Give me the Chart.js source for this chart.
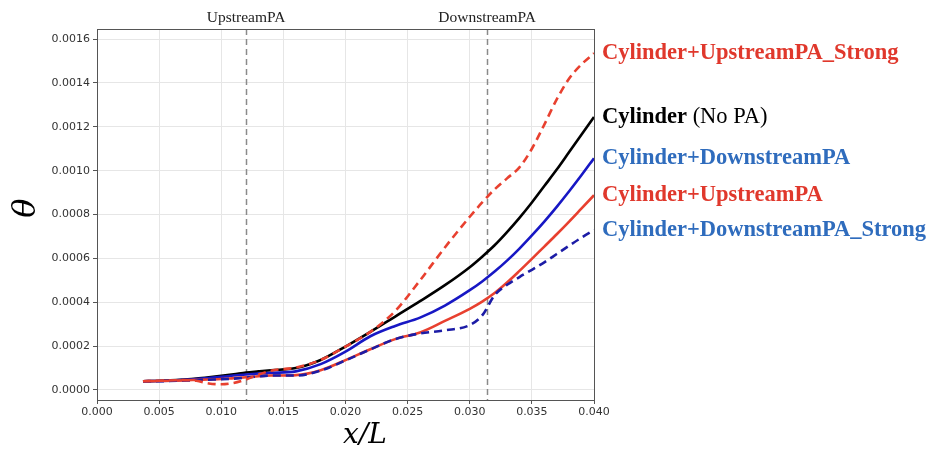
<!DOCTYPE html>
<html>
<head>
<meta charset="utf-8">
<script src="https://cdn.jsdelivr.net/npm/chart.js@4"></script>
<style>
 html, body { margin: 0; padding: 0; background: #fff; }
</style>
</head>
<body>
<canvas id="thetaChart" width="933" height="450"></canvas>
<script>
// x/L sample positions shared by all curves
var xValues = [0.0037, 0.005, 0.007, 0.008, 0.009, 0.010, 0.011, 0.012, 0.013, 0.014,
 0.016, 0.018, 0.020, 0.022, 0.024, 0.026, 0.028, 0.030, 0.031, 0.032, 0.033,
 0.034, 0.035, 0.036, 0.037, 0.038, 0.039, 0.040];

var cylinder = [0.000040, 0.000042, 0.000048, 0.000052, 0.000058, 0.000065, 0.000072, 0.000080, 0.000085, 0.000090,
 0.000100, 0.000137, 0.000198, 0.000265, 0.000335, 0.000405, 0.000478, 0.000560, 0.000608, 0.000660, 0.000720,
 0.000785, 0.000855, 0.000930, 0.001005, 0.001085, 0.001165, 0.001245];

var downstreamPA = [0.000040, 0.000041, 0.000046, 0.000050, 0.000055, 0.000060, 0.000066, 0.000071, 0.000075, 0.000078,
 0.000085, 0.000118, 0.000175, 0.000245, 0.000292, 0.000330, 0.000385, 0.000455, 0.000495, 0.000540, 0.000590,
 0.000645, 0.000705, 0.000768, 0.000835, 0.000906, 0.000980, 0.001057];

var downstreamPAStrong = [0.000040, 0.000040, 0.000043, 0.000045, 0.000047, 0.000049, 0.000052, 0.000056, 0.000062, 0.000066,
 0.000066, 0.000088, 0.000135, 0.000185, 0.000232, 0.000258, 0.000272, 0.000296, 0.000340, 0.000432, 0.000480,
 0.000515, 0.000548, 0.000582, 0.000620, 0.000658, 0.000695, 0.000729];

var upstreamPA = [0.000040, 0.000041, 0.000044, 0.000046, 0.000048, 0.000050, 0.000054, 0.000058, 0.000063, 0.000066,
 0.000068, 0.000090, 0.000136, 0.000186, 0.000232, 0.000262, 0.000315, 0.000370, 0.000403, 0.000442, 0.000490,
 0.000543, 0.000598, 0.000654, 0.000710, 0.000768, 0.000828, 0.000888];

var upstreamPAStrong = [0.000040, 0.000042, 0.000045, 0.000042, 0.000030, 0.000026, 0.000032, 0.000048, 0.000070, 0.000088,
 0.000102, 0.000137, 0.000198, 0.000265, 0.000360, 0.000500, 0.000650, 0.000790, 0.000855, 0.000915, 0.000965,
 0.001015, 0.001100, 0.001210, 0.001325, 0.001420, 0.001485, 0.001535];

var xTicks = [0.000, 0.005, 0.010, 0.015, 0.020, 0.025, 0.030, 0.035, 0.040];
var yTicks = [0.0000, 0.0002, 0.0004, 0.0006, 0.0008, 0.0010, 0.0012, 0.0014, 0.0016];

// actuator positions (x/L)
var paNames = ["UpstreamPA", "DownstreamPA"];
var paPositions = [0.0120, 0.0314];

var RED = "#e8402f";
var BLUE = "#1717c4";
var DARKBLUE = "#1c1ca6";
var LABEL_RED = "#e0382c";
var LABEL_BLUE = "#2f6cbd";

function toPoints(ys) {
 return xValues.map(function (x, i) {
  return { x: x, y: ys[i] };
 });
}

// first dataset is drawn on top
var seriesList = [
 { label: "Cylinder+UpstreamPA_Strong", data: upstreamPAStrong, color: RED, dash: [8, 5], text: LABEL_RED },
 { label: "Cylinder+DownstreamPA_Strong", data: downstreamPAStrong, color: DARKBLUE, dash: [8, 5], text: LABEL_BLUE },
 { label: "Cylinder+UpstreamPA", data: upstreamPA, color: RED, dash: [], text: LABEL_RED },
 { label: "Cylinder+DownstreamPA", data: downstreamPA, color: BLUE, dash: [], text: LABEL_BLUE },
 { label: "Cylinder", data: cylinder, color: "#000000", dash: [], text: "#000000" },
];

var datasets = seriesList.map(function (s) {
 return {
  label: s.label,
  data: toPoints(s.data),
  borderColor: s.color,
  borderWidth: 2.6,
  borderDash: s.dash,
  pointRadius: 0,
  fill: false,
  cubicInterpolationMode: "monotone",
 };
});

var decorPlugin = {
 id: "decor",
 beforeDatasetsDraw: function (chart) {
  var ctx = chart.ctx;
  var area = chart.chartArea;
  var xs = chart.scales.x;
  ctx.save();
  ctx.strokeStyle = "#8a8a8a";
  ctx.lineWidth = 1.5;
  ctx.setLineDash([6, 4]);
  paPositions.forEach(function (p) {
   var px = Math.round(xs.getPixelForValue(p)) + 0.5;
   ctx.beginPath();
   ctx.moveTo(px, area.top);
   ctx.lineTo(px, area.bottom);
   ctx.stroke();
  });
  ctx.restore();
 },
 afterDatasetsDraw: function (chart) {
  var ctx = chart.ctx;
  var area = chart.chartArea;
  var xs = chart.scales.x;
  var ys = chart.scales.y;
  ctx.save();

  // frame
  ctx.strokeStyle = "#555";
  ctx.lineWidth = 1;
  ctx.setLineDash([]);
  ctx.strokeRect(Math.round(area.left) + 0.5, Math.round(area.top) + 0.5,
   Math.round(area.right - area.left), Math.round(area.bottom - area.top));

  // actuator names above the plot
  ctx.fillStyle = "#222";
  ctx.font = "15.5px 'Liberation Serif'";
  ctx.textAlign = "center";
  ctx.textBaseline = "middle";
  paNames.forEach(function (name, i) {
   ctx.fillText(name, xs.getPixelForValue(paPositions[i]), 18);
  });

  // curve names at the right end of each curve
  ctx.textAlign = "left";
  var lx = area.right + 8;
  seriesList.forEach(function (s) {
   var py = ys.getPixelForValue(s.data[s.data.length - 1]);
   ctx.fillStyle = s.text;
   ctx.font = "bold 22.5px 'Liberation Serif'";
   ctx.fillText(s.label, lx, py);
   if (s.label === "Cylinder") {
    var w = ctx.measureText(s.label).width;
    ctx.font = "22.5px 'Liberation Serif'";
    ctx.fillText(" (No PA)", lx + w, py);
   }
  });

  // axis titles
  ctx.fillStyle = "#000";
  ctx.font = "italic 28px 'DejaVu Serif'";
  ctx.textAlign = "center";
  ctx.fillText("x/L", 365, 436);

  ctx.translate(27, 208);
  ctx.rotate(-Math.PI / 2);
  ctx.font = "italic 32px 'DejaVu Serif'";
  ctx.fillText("θ", 0, 0);
  ctx.restore();
 },
};

var tickFont = { family: "'DejaVu Sans'", size: 11 };

new Chart(document.getElementById("thetaChart"), {
 type: "line",
 data: { datasets: datasets },
 options: {
  responsive: false,
  devicePixelRatio: 1,
  animation: false,
  layout: { padding: { left: 0, right: 339, top: 29, bottom: 0 } },
  plugins: {
   legend: { display: false },
   tooltip: { enabled: false },
  },
  scales: {
   x: {
    type: "linear",
    min: 0,
    max: 0.04,
    afterBuildTicks: function (scale) {
     scale.ticks = xTicks.map(function (v) { return { value: v }; });
    },
    afterFit: function (scale) { scale.height = 50; },
    ticks: {
     font: tickFont,
     color: "#333",
     padding: 2,
     maxRotation: 0,
     callback: function (v) { return Number(v).toFixed(3); },
    },
    grid: { color: "#e6e6e6", tickColor: "#555", tickLength: 4 },
    border: { display: false },
   },
   y: {
    type: "linear",
    min: -0.0000456,
    max: 0.001646,
    afterBuildTicks: function (scale) {
     scale.ticks = yTicks.map(function (v) { return { value: v }; });
    },
    afterFit: function (scale) { scale.width = 97; },
    ticks: {
     font: tickFont,
     color: "#333",
     padding: 3,
     callback: function (v) { return Number(v).toFixed(4); },
    },
    grid: { color: "#e6e6e6", tickColor: "#555", tickLength: 4 },
    border: { display: false },
   },
  },
 },
 plugins: [decorPlugin],
});
</script>
</body>
</html>
